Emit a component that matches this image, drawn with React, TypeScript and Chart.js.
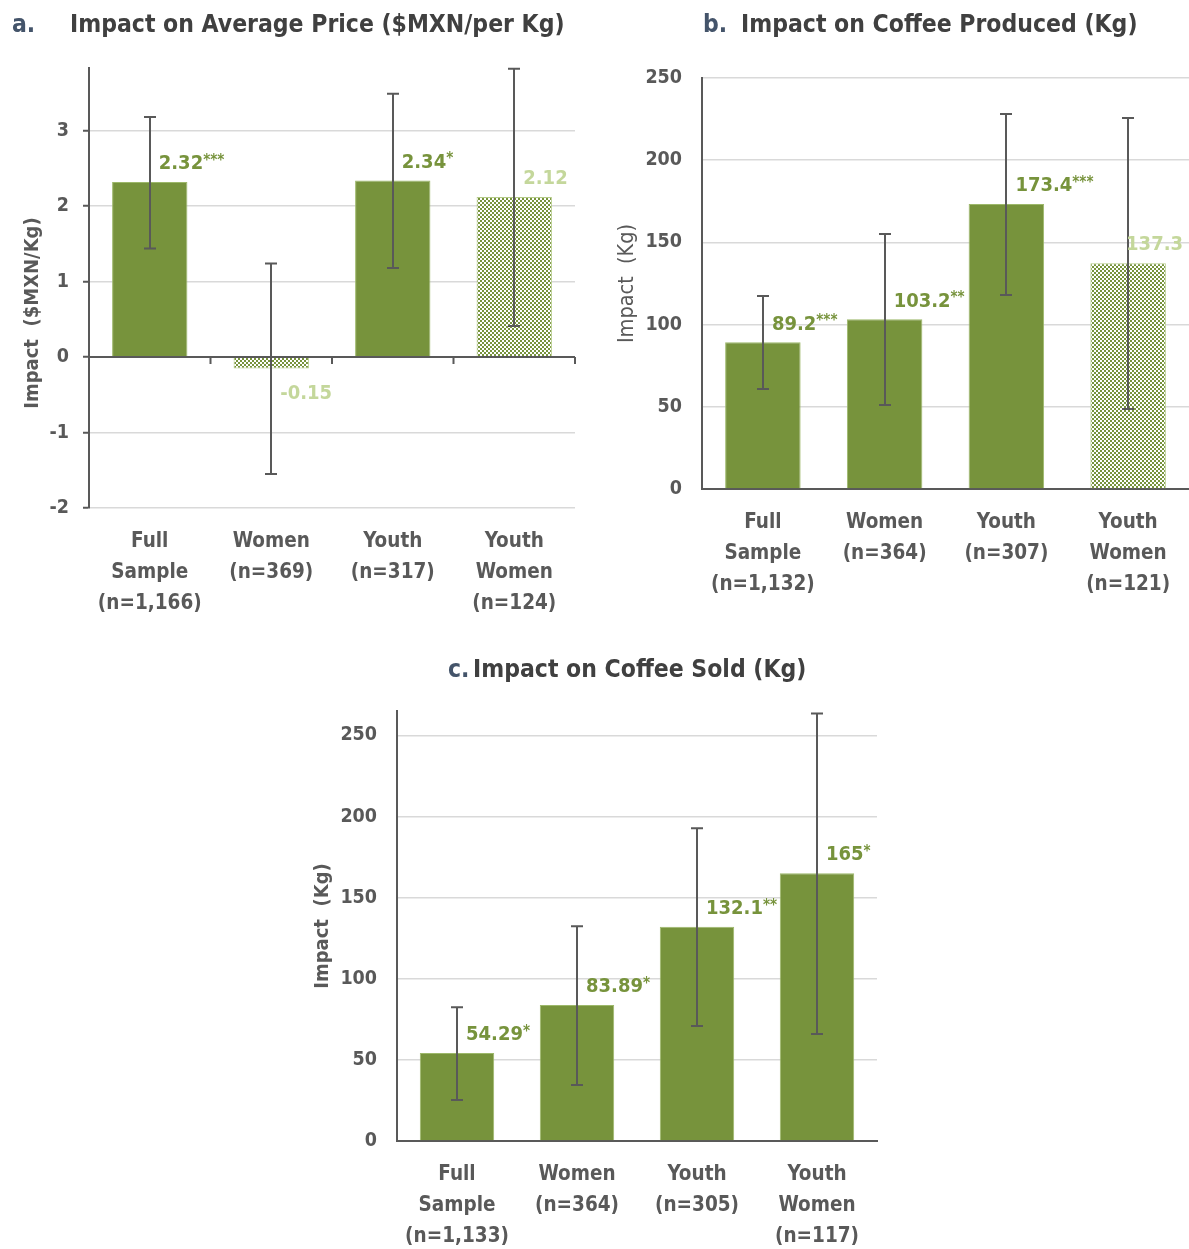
import React, { useEffect, useRef } from "react";
import { Chart, registerables } from "chart.js";

Chart.register(...registerables);

const FONT = "'Liberation Sans Narrow', 'Arial Narrow', 'DejaVu Sans Condensed', 'Liberation Sans', sans-serif";
const GREEN = "#77933C";
const PALE = "#C4D79B";
const AXIS = "#595959";
const GRID = "#D9D9D9";
const TEXT = "#595959";

// ---- Panel a: Impact on Average Price ----
const aCategories = [["Full", "Sample", "(n=1,166)"], ["Women", "(n=369)"], ["Youth", "(n=317)"], ["Youth", "Women", "(n=124)"]];
const aValues = [2.32, -0.15, 2.34, 2.12];
const aStars = ["***", "", "*", ""];
const aLow = [1.44, -1.55, 1.18, 0.41];
const aHigh = [3.18, 1.24, 3.49, 3.82];

// ---- Panel b: Impact on Coffee Produced ----
const bCategories = [["Full", "Sample", "(n=1,132)"], ["Women", "(n=364)"], ["Youth", "(n=307)"], ["Youth", "Women", "(n=121)"]];
const bValues = [89.2, 103.2, 173.4, 137.3];
const bStars = ["***", "**", "***", ""];
const bLow = [60.8, 51.1, 118.0, 48.7];
const bHigh = [117.4, 155.1, 228.1, 225.7];

// ---- Panel c: Impact on Coffee Sold ----
const cCategories = [["Full", "Sample", "(n=1,133)"], ["Women", "(n=364)"], ["Youth", "(n=305)"], ["Youth", "Women", "(n=117)"]];
const cValues = [54.29, 83.89, 132.1, 165];
const cStars = ["*", "*", "**", "*"];
const cLow = [25.2, 34.5, 70.8, 65.9];
const cHigh = [82.5, 132.4, 192.7, 263.5];

type Panel = {
  categories: string[][];
  values: number[];
  stars: string[];
  low: number[];
  high: number[];
  min: number;
  max: number;
  step: number;
  yTitle: string;
  yTitleBold: boolean;
  yTitleSize: number;
  yTitlePad: number;
  zeroLine: boolean;
  width: number;
  height: number;
  padTop: number;
  padRight: number;
  yAxisWidth: number;
  xAxisHeight: number;
  tickPad: number;
};

function makePattern(): CanvasPattern | string {
  const c = document.createElement("canvas");
  c.width = 4;
  c.height = 4;
  const g = c.getContext("2d");
  if (!g) return GREEN;
  g.fillStyle = "#ffffff";
  g.fillRect(0, 0, 4, 4);
  g.fillStyle = GREEN;
  g.fillRect(0, 0, 2, 2);
  g.fillRect(2, 2, 2, 2);
  const p = g.createPattern(c, "repeat");
  return p || GREEN;
}

const NUM_SIZE = 20;
const STAR_SIZE = 15;

function BarPanel({ panel, left, top }: { panel: Panel; left: number; top: number }) {
  const ref = useRef<HTMLCanvasElement>(null);
  useEffect(() => {
    const canvas = ref.current;
    if (!canvas) return;
    const pattern = makePattern();
    const bg = panel.stars.map((s) => (s ? GREEN : pattern));
    const border = panel.stars.map((s) => (s ? "#9DB86A" : "#B5CC8A"));

    const overlay = {
      id: "overlay",
      afterDatasetsDraw(chart: any) {
        const ctx = chart.ctx as CanvasRenderingContext2D;
        const meta = chart.getDatasetMeta(0);
        const ys = chart.scales.y;
        const xs = chart.scales.x;
        const area = chart.chartArea;
        ctx.save();
        if (panel.zeroLine) {
          const y0 = ys.getPixelForValue(0);
          ctx.strokeStyle = AXIS;
          ctx.lineWidth = 2;
          ctx.beginPath();
          ctx.moveTo(area.left, y0);
          ctx.lineTo(area.right, y0);
          for (let i = 0; i < panel.categories.length; i++) {
            const xb = xs.getPixelForValue(i + 0.5);
            ctx.moveTo(xb, y0);
            ctx.lineTo(xb, y0 + 7);
          }
          ctx.stroke();
        }
        // error bars
        ctx.strokeStyle = AXIS;
        ctx.lineWidth = 2;
        meta.data.forEach((bar: any, i: number) => {
          const x = Math.round(bar.x);
          const yl = ys.getPixelForValue(panel.low[i]);
          const yh = ys.getPixelForValue(panel.high[i]);
          ctx.beginPath();
          ctx.moveTo(x, yl);
          ctx.lineTo(x, yh);
          ctx.moveTo(x - 6, yl);
          ctx.lineTo(x + 6, yl);
          ctx.moveTo(x - 6, yh);
          ctx.lineTo(x + 6, yh);
          ctx.stroke();
        });
        // data labels
        meta.data.forEach((bar: any, i: number) => {
          const v = panel.values[i];
          const num = String(v);
          const st = panel.stars[i];
          ctx.font = `bold ${NUM_SIZE}px ${FONT}`;
          const w1 = ctx.measureText(num).width;
          ctx.font = `bold ${STAR_SIZE}px ${FONT}`;
          const w2 = st ? ctx.measureText(st).width : 0;
          let x = bar.x + 9;
          if (x + w1 + w2 > chart.width - 6) x = chart.width - 6 - w1 - w2;
          const yMid = v >= 0 ? bar.y - 18 : bar.y + 25;
          ctx.fillStyle = st ? GREEN : PALE;
          ctx.textAlign = "left";
          ctx.textBaseline = "middle";
          ctx.font = `bold ${NUM_SIZE}px ${FONT}`;
          ctx.fillText(num, x, yMid);
          if (st) {
            ctx.font = `bold ${STAR_SIZE}px ${FONT}`;
            ctx.fillText(st, x + w1, yMid - 3);
          }
        });
        ctx.restore();
      },
    };

    const chart = new Chart(canvas, {
      type: "bar",
      data: {
        labels: panel.categories,
        datasets: [
          {
            data: panel.values,
            backgroundColor: bg as any,
            borderColor: border,
            borderWidth: 1,
            barPercentage: 0.62,
            categoryPercentage: 1,
          },
        ],
      },
      options: {
        animation: false,
        responsive: false,
        devicePixelRatio: 1,
        layout: { padding: { top: panel.padTop, right: panel.padRight, left: 0, bottom: 0 } },
        plugins: { legend: { display: false }, tooltip: { enabled: false }, title: { display: false } },
        scales: {
          x: {
            grid: { display: false, drawTicks: false },
            border: panel.zeroLine ? { display: false } : { display: true, color: AXIS, width: 2 },
            ticks: {
              color: TEXT,
              padding: panel.tickPad,
              font: { family: FONT, size: 20.5, weight: "bold", lineHeight: "31px" },
              maxRotation: 0,
              autoSkip: false,
            },
            afterFit: (s: any) => {
              s.height = panel.xAxisHeight;
            },
          },
          y: {
            min: panel.min,
            max: panel.max,
            grid: {
              color: GRID,
              lineWidth: 1.5,
              drawTicks: panel.zeroLine,
              tickLength: 6,
              tickColor: AXIS,
              tickWidth: 2,
            },
            border: { display: true, color: AXIS, width: 2 },
            ticks: {
              stepSize: panel.step,
              includeBounds: false,
              color: TEXT,
              padding: panel.zeroLine ? 14 : 20,
              font: { family: FONT, size: 19.5, weight: "bold" },
            },
            title: {
              display: true,
              text: panel.yTitle,
              color: TEXT,
              padding: { top: panel.yTitlePad, bottom: 0 },
              font: { family: FONT, size: panel.yTitleSize, weight: panel.yTitleBold ? "bold" : "normal" },
            },
            afterFit: (s: any) => {
              s.width = panel.yAxisWidth;
            },
          },
        },
      },
      plugins: [overlay],
    } as any);
    return () => chart.destroy();
  }, []);
  return (
    <div style={{ position: "absolute", left, top, width: panel.width, height: panel.height }}>
      <canvas ref={ref} width={panel.width} height={panel.height} style={{ width: panel.width, height: panel.height, display: "block" }} />
    </div>
  );
}

const panelA: Panel = {
  categories: aCategories, values: aValues, stars: aStars, low: aLow, high: aHigh,
  min: -2, max: 3.83, step: 1, yTitle: "Impact  ($MXN/Kg)\u00A0\u00A0\u00A0\u00A0\u00A0\u00A0\u00A0\u00A0", yTitleBold: true, yTitleSize: 20, yTitlePad: 21,
  zeroLine: true, width: 590, height: 630, padTop: 68, padRight: 15, yAxisWidth: 89, xAxisHeight: 122, tickPad: 18,
};
const panelB: Panel = {
  categories: bCategories, values: bValues, stars: bStars, low: bLow, high: bHigh,
  min: 0, max: 250, step: 50, yTitle: "Impact  (Kg)", yTitleBold: false, yTitleSize: 21.5, yTitlePad: 25,
  zeroLine: false, width: 599, height: 630, padTop: 78, padRight: 0, yAxisWidth: 112, xAxisHeight: 141, tickPad: 18,
};
const panelC: Panel = {
  categories: cCategories, values: cValues, stars: cStars, low: cLow, high: cHigh,
  min: 0, max: 265, step: 50, yTitle: "Impact  (Kg)", yTitleBold: true, yTitleSize: 20, yTitlePad: 11,
  zeroLine: false, width: 590, height: 609, padTop: 71, padRight: 13, yAxisWidth: 97, xAxisHeight: 108, tickPad: 18,
};

function Title({ letter, text, letterLeft, textLeft, centerY }: { letter: string; text: string; letterLeft: number; textLeft: number; centerY: number }) {
  const base: React.CSSProperties = {
    position: "absolute",
    top: centerY - 18,
    height: 36,
    lineHeight: "36px",
    fontFamily: FONT,
    fontWeight: "bold",
    fontSize: 24.5,
    whiteSpace: "nowrap",
  };
  return (
    <>
      <div style={{ ...base, left: letterLeft, color: "#44546A" }}>{letter}</div>
      <div style={{ ...base, left: textLeft, color: "#404040" }}>{text}</div>
    </>
  );
}

export default function App() {
  return (
    <div style={{ position: "absolute", left: 0, top: 0, width: 1189, height: 1249, background: "#ffffff", overflow: "hidden" }}>
      <BarPanel panel={panelA} left={0} top={0} />
      <BarPanel panel={panelB} left={590} top={0} />
      <BarPanel panel={panelC} left={300} top={640} />
      <Title letter="a." text="Impact on Average Price ($MXN/per Kg)" letterLeft={12} textLeft={70} centerY={24} />
      <Title letter="b." text="Impact on Coffee Produced (Kg)" letterLeft={703} textLeft={741} centerY={24} />
      <Title letter="c." text="Impact on Coffee Sold (Kg)" letterLeft={448} textLeft={473} centerY={669} />
    </div>
  );
}
